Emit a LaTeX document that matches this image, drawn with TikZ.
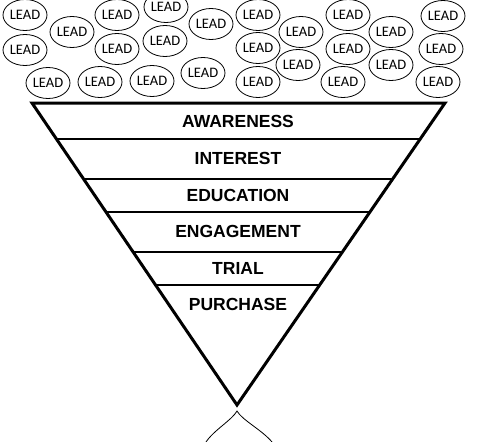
\documentclass[tikz,border=0pt]{standalone}
\usepackage{fontspec}
\setmainfont{Liberation Sans}
\newfontfamily\leadfont{Carlito}
\usetikzlibrary{calc, shapes.geometric}

\begin{document}
\begin{tikzpicture}[
  x=1pt, y=-1pt,
  lead/.style={ellipse, draw, line width=0.8pt, minimum width=44pt, minimum height=31pt, inner sep=0pt, font=\leadfont\fontsize{14.5}{15}\selectfont},
  stage/.style={font=\bfseries\fontsize{17.5}{19}\selectfont},
  band/.style={line width=2pt},
  wall/.style={line width=3pt, line join=miter}
]
\useasboundingbox (0,0) rectangle (478,441);

% Leads on top
\foreach \x/\y [count=\i] in {25/15, 72/32, 25/50, 117/15, 117/49, 166/7, 165/41, 211/24,
  48/83, 100/82, 152/81, 203/73, 258/15, 258/48, 258/82, 301/32, 298/65,
  348/15, 348/49, 343/82, 391/32, 391/65, 443/16, 441/49, 438/82} {
  \node[lead] (lead\i) at (\x,\y) {LEAD};
}

% Funnel
\coordinate (tl) at (32,103);
\coordinate (tr) at (445,103);
\coordinate (apex) at (237,405);
\draw[wall] (tl) -- (tr) -- (apex) -- cycle;

% Bands
\foreach \f in {0.119, 0.2517, 0.361, 0.493, 0.603} {
  \draw[band] ($(tl)!\f!(apex)$) -- ($(tr)!\f!(apex)$);
}

% Stage labels
\node[stage] (awareness) at (238,121) {AWARENESS};
\node[stage] (interest) at (238,158) {INTEREST};
\node[stage] (education) at (238,195) {EDUCATION};
\node[stage] (engagement) at (238,231) {ENGAGEMENT};
\node[stage] (trial) at (238,268) {TRIAL};
\node[stage] (purchase) at (238,304) {PURCHASE};

% Drop below
\coordinate (tip) at (237,411);
\draw[line width=0.8pt] (206,442) .. controls (214,430) and (232,420) .. (tip)
  .. controls (242,420) and (262,430) .. (272,442);

\end{tikzpicture}
\end{document}
